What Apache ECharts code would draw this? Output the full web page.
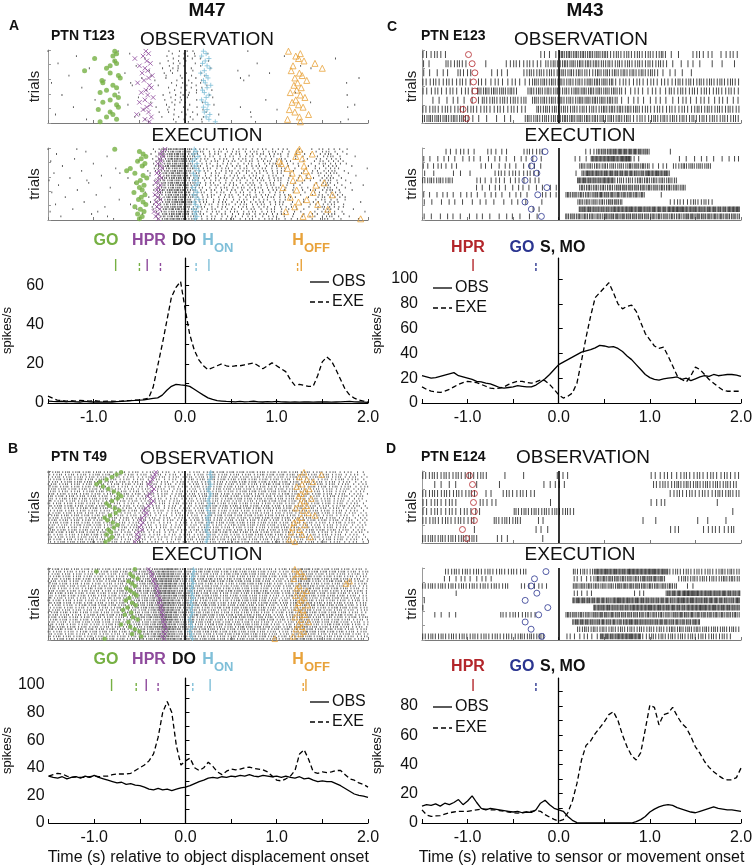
<!DOCTYPE html>
<html><head><meta charset="utf-8">
<script src="https://cdn.jsdelivr.net/npm/echarts@6/dist/echarts.min.js"></script>
<style>html,body{margin:0;padding:0;background:#fff}#c{width:756px;height:867px}</style>
</head><body><div id="c"></div>
<script>
// ---------- PSTH data (spikes/s), sampled every 0.05 s from -1.5 s to 2.0 s ----------
const T_START = -1.5, T_STEP = 0.05, T_COUNT = 71;
const X_TICKS = ['-1.0','0.0','1.0','2.0'];

const A_OBS = [1.0,0.8,0.7,0.9,0.6,0.8,0.6,0.5,0.8,0.6, 0.5,0.6,0.4,0.6,0.5,0.7,0.8,1.0,1.2,1.3, 1.5,1.6,2.0,2.4,2.6,4.0,6.5,8.5,9.5,9.2, 9.0,8.5,7.0,5.5,4.0,2.6,1.8,1.2,1.0,0.8, 0.7,0.6,0.8,0.6,0.7,0.9,0.6,0.5,0.7,0.6, 0.8,0.6,0.5,0.4,0.5,0.4,0.6,0.5,0.4,0.5, 0.6,0.5,0.4,0.5,0.6,0.7,0.8,0.6,0.5,0.4,0.3];
const A_EXE = [3.5,2.5,1.5,1.2,1.0,1.2,1.0,1.3,1.2,1.0, 1.2,1.0,0.8,1.0,1.0,0.8,1.0,1.2,1.2,1.5, 1.5,2.0,2.5,8,19,30,42,54,59,62, 48,35,27,22,19,17,18,19,20,19, 18.5,19,19,19.5,20,20.5,19,17.5,19,20.5, 19,17.5,16,12,9,9.5,9,8.5,8.5,14, 21,23.5,21.5,17,12,7,4,2.5,1.5,1,0.5];
const B_OBS = [34,33,32.5,33.5,32,33,33.5,32.5,34,33, 34.5,33,32,31,30,29,29.5,28,28.5,27.5, 27,26,24.5,24,25,24,24.5,23.5,24.5,25.5, 26,27,28.5,30,31,32.5,33,32.5,33.5,33, 34,33.5,34.5,34,35,34,33.5,34.5,34,33.5, 34,33,34,33,32.5,33.5,32,32.5,31,30, 30.5,30,30,28.5,27,25,23,21,20,19.5,18.5];
const B_EXE = [34,35,36,35.5,34,33,33.5,33,33,33.5, 34,33.5,34,34,35,35.5,35.5,35.5,36,38, 40,42,45,50,62,80,88,80,56,42, 45,47,40,38,40,44,41,37,35,37.5, 39,38.5,39,40,40.5,39.5,39,38.5,37,34, 31,30.5,32,34,38,50,53,46,37,36, 37,36.5,37,38,38,35,32,31,29,28,26];
const C_OBS = [22,21,20,20.5,21.5,22.5,23.5,24.5,22,21, 20,19,17.5,17,16,15.5,14,12.5,12,12.5, 13,14,13.5,13,13,14.5,17,19.5,23,27, 31,33,35,37,39,41,42,43,44.5,46.5, 46,45,45.5,44,41.5,38,35,31,27,23, 20.5,19,18.5,19.5,20,20.5,21,19,20,18, 19.5,21,22,21.5,23,22,22.5,23,23,22.5,21.5];
const C_EXE = [13,11,9.5,9,8.5,9.5,11,13,15,16.5, 17.5,17,16.5,15,13.5,12,11.5,12,13,15, 16.5,17.5,17.5,16.5,16,17,18.5,18,15,11, 6.5,4,5.5,8,16,34,53,70,85,89, 93,97,89,80,76,78,79,74,65,56, 51,46,44,45,38,30,22,19,17,22, 29,27,23,19,16,13,10.5,9.5,9.5,9.5,9.5];
const D_OBS = [11.5,12.5,12,13,11.5,13.5,12.5,14,16,12.5, 15,18.5,14,10,9,10,9.5,9,8.5,8, 7.5,8,7,7.5,7.2,9,13.5,15.5,12.5,10, 9,8,4.5,1.8,0.3,0,0,0,0,0, 0,0,0,0,0,0,0,1,2.3,4.5, 7.5,9.5,11,12,12.5,12,10.5,9.5,8.5,7.5, 7,8,9,10,11,10,9.5,9,9,8.5,8];
const D_EXE = [9,5.5,4.5,4.8,5,6,7,7.5,8,8, 8,8.5,9,9.5,9.5,9,9,8.5,8,7.5, 7,6.8,7,7.5,8,8.5,8,5.7,4,2.5, 1.2,2.3,7,15,27,43,53,56,61,65, 69,74,76,70,60,52,46,43,48,64, 80.5,79,67,74,75,79,73,68,65,59, 52,47.5,42,38,35,32.5,30.5,29.5,29.5,31,37.5];

// ---------- mean event times marked above each PSTH (s) ----------
const LEFT_EVENTS = ['GO','HPR','HON','HOFF'];
const A_MEAN_OBS = [-0.76,-0.415,0.26,1.27];
const A_MEAN_EXE = [-0.50,-0.27,0.12,1.23];
const B_MEAN_OBS = [-0.81,-0.43,0.27,1.32];
const B_MEAN_EXE = [-0.54,-0.30,0.08,1.29];
const C_MEAN_OBS_HPR = [-0.94], C_MEAN_EXE_GO = [-0.25];
const D_MEAN_OBS_HPR = [-0.94], D_MEAN_EXE_GO = [-0.25];

// ---------- per-trial event times (s), top trial first ----------
const A_OBS_GO = [-0.77,-0.75,-0.79,-0.99,-0.77,-0.75,-0.82,-0.86,-1.10,-0.82,-0.73,-0.71,-0.91,-0.90,-0.79,-0.75,-0.86,-0.93,-0.77,-0.73,-0.82,-0.90,-0.75,-0.73,-0.95,-0.82,-0.79,-0.86,-0.75,-0.93];
const A_OBS_HPR = [-0.43,-0.40,-0.46,-0.55,-0.42,-0.38,-0.50,-0.44,-0.41,-0.47,-0.36,-0.40,-0.45,-0.52,-0.39,-0.37,-0.43,-0.48,-0.41,-0.35,-0.44,-0.50,-0.38,-0.42,-0.46,-0.40,-0.53,-0.37,-0.44,-0.39];
const A_OBS_HON = [0.20,0.23,0.18,0.26,0.22,0.19,0.24,0.27,0.21,0.17,0.23,0.25,0.20,0.22,0.28,0.24,0.19,0.21,0.26,0.23,0.18,0.22,0.25,0.20,0.24,0.21,0.27,0.23,0.26,0.33];
const A_OBS_HOFF = [1.13,1.26,1.21,1.24,1.30,1.42,1.18,1.50,1.16,1.25,1.28,1.20,1.33,1.23,1.19,1.27,1.22,1.15,1.26,1.31,1.21,1.17,1.24,1.29,1.14,1.20,1.35,1.25,1.12,1.26];
const A_EXE_GO = [-0.77,-0.50,-0.46,-0.43,-0.48,-0.52,-0.44,-0.47,-0.60,-0.64,-0.55,-0.46,-0.42,-0.49,-0.53,-0.45,-0.50,-0.47,-0.56,-0.44,-0.48,-0.51,-0.46,-0.43,-0.55,-0.49,-0.45,-0.52,-0.47,-0.50];
const A_EXE_HPR = [-0.22,-0.25,-0.27,-0.24,-0.28,-0.26,-0.30,-0.27,-0.25,-0.29,-0.31,-0.28,-0.26,-0.30,-0.32,-0.27,-0.29,-0.31,-0.28,-0.33,-0.30,-0.27,-0.32,-0.29,-0.31,-0.28,-0.34,-0.30,-0.32,-0.29];
const A_EXE_HON = [0.10,0.12,0.09,0.14,0.11,0.08,0.13,0.10,0.12,0.15,0.09,0.11,0.13,0.10,0.14,0.12,0.08,0.11,0.13,0.09,0.12,0.15,0.10,0.11,0.14,0.09,0.12,0.10,0.13,0.11];
const A_EXE_HOFF = [1.25,1.23,1.39,1.21,1.28,1.03,1.05,1.30,1.12,1.32,1.17,1.35,1.26,1.18,1.52,1.43,1.07,1.22,1.40,1.61,1.15,1.33,1.24,1.45,1.20,1.56,1.10,1.37,1.29,1.92];
const B_OBS_GO = [-0.70,-0.75,-0.80,-0.86,-0.93,-0.97,-0.90,-0.84,-0.78,-0.73,-0.70,-0.74,-0.80,-0.86,-0.83,-0.77,-0.72,-0.76,-0.82,-0.88,-0.85,-0.79,-0.74,-0.78,-0.84,-0.81,-0.86,-0.80,-0.83,-0.87];
const B_OBS_HPR = [-0.32,-0.33,-0.35,-0.36,-0.38,-0.40,-0.37,-0.34,-0.36,-0.39,-0.41,-0.38,-0.35,-0.37,-0.40,-0.43,-0.45,-0.42,-0.44,-0.47,-0.49,-0.46,-0.48,-0.50,-0.47,-0.51,-0.53,-0.50,-0.52,-0.55];
const B_OBS_HON = [0.28,0.27,0.29,0.27,0.26,0.28,0.27,0.25,0.26,0.28,0.27,0.26,0.25,0.27,0.26,0.24,0.25,0.27,0.26,0.24,0.25,0.26,0.24,0.25,0.23,0.24,0.26,0.25,0.24,0.23];
const B_OBS_HOFF = [1.30,1.49,1.25,1.33,1.40,1.28,1.22,1.36,1.31,1.27,1.24,1.38,1.30,1.26,1.33,1.21,1.29,1.35,1.42,1.27,1.23,1.19,1.31,1.17,1.25,1.16,1.28,1.37,1.14,1.20];
const B_EXE_GO = [-0.55,-0.97,-0.60,-0.57,-0.52,-0.62,-0.58,-0.55,-0.64,-0.60,-0.56,-0.53,-0.61,-0.65,-0.58,-0.54,-0.63,-0.68,-0.59,-0.66,-0.57,-0.52,-0.62,-0.70,-0.60,-0.55,-0.50,-0.58,-0.48,-0.88];
const B_EXE_HPR = [-0.40,-0.38,-0.36,-0.37,-0.34,-0.35,-0.33,-0.31,-0.32,-0.30,-0.29,-0.31,-0.28,-0.27,-0.29,-0.26,-0.27,-0.25,-0.26,-0.24,-0.25,-0.23,-0.24,-0.22,-0.23,-0.21,-0.24,-0.22,-0.25,-0.23];
const B_EXE_HON = [0.09,0.10,0.08,0.09,0.07,0.08,0.09,0.07,0.08,0.06,0.08,0.07,0.09,0.07,0.06,0.08,0.07,0.06,0.08,0.07,0.06,0.05,0.07,0.06,0.08,0.06,0.05,0.07,0.06,0.08];
const B_EXE_HOFF = [1.20,1.26,1.23,1.30,1.19,1.80,1.76,1.25,1.22,1.33,1.28,1.21,1.30,1.27,1.24,1.34,1.22,1.29,1.25,1.31,1.20,1.27,1.35,1.24,1.28,1.21,1.30,1.26,1.18,0.98];
const C_OBS_HPR = [-0.99,-0.95,-0.92,-0.935,-0.92,-0.935,-1.05,-1.01];
const C_EXE_GO = [-0.15,-0.27,-0.30,-0.24,-0.37,-0.13,-0.23,-0.37,-0.30,-0.19];
const D_OBS_HPR = [-0.98,-0.946,-0.925,-0.935,-0.925,-0.925,-1.056,-1.01];
const D_EXE_GO = [-0.14,-0.266,-0.303,-0.24,-0.368,-0.12,-0.22,-0.368,-0.303,-0.185];

// ---------- firing segments per trial for the small rasters: [start s, end s, rate spikes/s] ----------
const C_OBS_TRIALS = [
 [[-1.5,-1.22,25],[-0.22,0,20],[0,0.55,50],[0.55,1.15,35],[1.15,1.35,15],[1.45,1.7,25],[1.75,1.99,20]],
 [[-1.5,-1.38,15],[-1.25,-1.0,30],[-0.85,-0.75,15],[-0.6,-0.18,25],[-0.15,0.5,45],[0.5,1.2,35],[1.2,1.6,12],[1.65,1.99,8]],
 [[-1.5,-1.2,18],[-1.12,-0.95,30],[-0.77,-0.52,15],[-0.4,0.3,38],[0.3,1.1,40],[1.1,1.5,12]],
 [[-1.5,-0.95,28],[-0.9,-0.3,22],[-0.3,0.6,45],[0.6,1.15,25],[1.15,1.5,30],[1.5,1.99,35]],
 [[-1.5,-0.92,25],[-0.9,-0.45,45],[-0.35,0.7,45],[0.7,1.2,20],[1.2,1.99,30]],
 [[-1.4,-0.85,15],[-0.85,-0.35,35],[-0.3,0.65,45],[0.65,1.99,18]],
 [[-1.5,-0.35,28],[-0.25,0.9,42],[0.9,1.99,32]],
 [[-1.5,-0.98,45],[-0.98,-0.5,12],[-0.38,0.8,45],[0.8,1.99,35]]
];
const C_EXE_TRIALS = [
 [[-1.25,-0.9,20],[-0.8,-0.55,20],[-0.4,-0.17,30],[0.27,0.43,25],[0.43,1.0,70],[1.2,1.25,5]],
 [[-1.5,-0.15,14],[0.15,0.35,15],[0.35,0.8,90],[0.8,0.9,20],[1.3,1.99,15]],
 [[-1.5,-1.1,20],[-0.88,-0.15,15],[0.22,1.0,50],[1.0,1.2,20],[1.25,1.68,45]],
 [[-1.5,-1.3,8],[-1.2,-0.9,10],[-0.72,-0.2,25],[0.13,0.25,10],[0.25,1.22,75]],
 [[-1.5,-1.15,40],[-0.92,-0.2,20],[0.2,0.6,80],[0.6,1.3,45]],
 [[-0.92,-0.15,15],[-0.13,0.0,15],[0.22,1.4,55]],
 [[-1.5,-0.3,15],[-0.2,0,20],[0.07,0.95,60],[1.1,1.15,5]],
 [[-1.5,-0.3,12],[-0.22,-0.15,10],[0.2,0.7,55],[1.2,1.7,30]],
 [[-0.3,-0.17,15],[0.22,1.99,80]],
 [[-1.5,-0.2,12],[0.07,1.99,60]]
];
const D_OBS_TRIALS = [
 [[-1.5,-0.77,30],[-0.6,-0.58,5],[-0.42,-0.35,10],[-0.05,0.12,20],[1.0,1.99,25]],
 [[-1.38,-1.1,15],[-0.95,-0.85,15],[-0.7,-0.6,10],[-0.2,0.1,15],[1.03,1.96,35]],
 [[-1.5,-0.9,30],[-0.83,-0.72,20],[-0.63,-0.25,25],[1.2,1.99,30]],
 [[-1.5,-1.1,25],[-0.88,-0.67,25],[-0.1,-0.08,5],[0.98,1.18,20],[1.7,1.78,15]],
 [[-1.5,-0.85,25],[-0.5,0.18,35],[1.9,1.92,5]],
 [[-1.5,-0.92,30],[-0.72,-0.4,35],[-0.25,-0.15,20],[0.9,0.95,5],[1.05,1.08,5],[1.5,1.55,5],[1.62,1.65,5],[1.82,1.85,5]],
 [[-0.95,-0.9,10],[-0.28,-0.07,15],[1.2,1.33,25],[1.56,1.93,25]],
 [[-1.5,-0.88,35],[-0.7,-0.52,15],[-0.2,-0.15,15]]
];
const D_EXE_TRIALS = [
 [[-1.25,-0.35,32],[0.15,0.4,40],[0.4,1.2,85],[1.2,1.99,35]],
 [[-1.27,-0.7,18],[0.15,0.4,25],[0.4,1.17,60],[1.3,1.99,40]],
 [[-1.5,-0.55,35],[-0.43,-0.1,20],[0.15,1.3,55],[1.38,1.5,15]],
 [[-1.2,-1.05,5],[0.15,0.38,20],[0.8,0.95,20],[1.17,1.99,80]],
 [[-1.5,-1.45,10],[0.15,1.99,75]],
 [[-1.5,-1.48,5],[0.38,1.99,80]],
 [[-1.38,-1.1,15],[-0.65,-0.24,30],[0.07,1.99,60]],
 [[0.15,1.55,70]],
 [[0.2,1.99,40]],
 [[-1.5,-0.15,35],[0.07,0.45,20],[0.45,0.9,80],[0.9,1.9,35]]
];
const N_TRIALS_AB = 30;

// ---------- helpers ----------
const T = Array.from({length:T_COUNT},(_,i)=>+(T_START+i*T_STEP).toFixed(2));
const FONT = '"Liberation Sans", Arial, Helvetica, sans-serif';
const COL = {GO:'#76b043', HPR:'#8e4a9c', HON:'#7fbfd8', HOFF:'#e8a23a', HPR_R:'#b3262b', GO_R:'#2b3590'};
const CLEAR = 'rgba(0,0,0,0)';
const MARK = {
  GO:   {symbol:'circle', itemStyle:{color:COL.GO}},
  HPR:  {symbol:'path://M0,0L10,10M10,0L0,10', itemStyle:{color:CLEAR,borderColor:COL.HPR,borderWidth:1}},
  HON:  {symbol:'path://M5,0L5,10M0,5L10,5', itemStyle:{color:CLEAR,borderColor:COL.HON,borderWidth:1}},
  HOFF: {symbol:'triangle', itemStyle:{color:CLEAR,borderColor:COL.HOFF,borderWidth:1}},
  HPR_R:{symbol:'circle', itemStyle:{color:CLEAR,borderColor:COL.HPR_R,borderWidth:1}},
  GO_R: {symbol:'circle', itemStyle:{color:CLEAR,borderColor:COL.GO_R,borderWidth:1}}
};
// deterministic low-discrepancy dither in [0.5, 1.5) (mean 1) to avoid a regular lattice of ticks
const dither = j => 0.5 + ((j*0.7548777) % 1);

// spike times whose cumulative count follows the PSTH rate
function spikesFromRate(rate, n){
  const pts=[];
  for(let k=0;k<n;k++){
    let j=k*37, target=((k*0.618034)%1), cum=0;
    for(let i=0;i<rate.length-1;i++){
      const area=(rate[i]+rate[i+1])/2*T_STEP;
      while(area>0 && cum+area>=target){ pts.push([T[i]+(target-cum)/area*T_STEP, k+0.5]); target+=dither(j++); }
      cum+=area;
    }
  }
  return pts;
}
function spikesFromSegments(trials){
  const pts=[];
  trials.forEach((segs,k)=>segs.forEach(([a,b,r],s)=>{
    const n=Math.max(1,Math.round(r*(b-a)));
    const w=[]; let tot=0;
    for(let j=0;j<n;j++){ const v=dither(k*53+s*11+j); w.push(v); tot+=v; }
    let acc=0;
    for(let j=0;j<n;j++){ acc+=w[j]; pts.push([a+(acc-w[j]/2)/tot*(b-a), k+0.5]); }
  }));
  return pts;
}

const grids=[], xAxis=[], yAxis=[], series=[];
const zeroLine = w => ({silent:true, symbol:['none','none'], label:{show:false}, lineStyle:{color:'#000',width:w,type:'solid'}, data:[{xAxis:0}]});

function addRaster(box, n, yInt, nameGap, spikes, size, color, markers){
  const gi=grids.length; grids.push(box);
  xAxis.push({gridIndex:gi,type:'value',min:-1.5,max:2,interval:0.5,
    axisLine:{onZero:false,lineStyle:{color:'#7a7a7a',width:1.2}},
    axisTick:{inside:true,length:3,lineStyle:{color:'#7a7a7a'}},axisLabel:{show:false},splitLine:{show:false}});
  yAxis.push({gridIndex:gi,type:'value',min:0,max:n,interval:yInt,inverse:true,
    name:'trials',nameLocation:'middle',nameGap,nameTextStyle:{fontSize:15,color:'#222',fontFamily:FONT},
    axisLine:{show:true,onZero:false,lineStyle:{color:'#9a9a9a'}},
    axisTick:{show:true,inside:true,length:3,lineStyle:{color:'#9a9a9a'}},axisLabel:{show:false},splitLine:{show:false}});
  series.push({type:'scatter',xAxisIndex:gi,yAxisIndex:gi,data:spikes,symbol:'rect',symbolSize:size,
    itemStyle:{color},silent:true,z:2,markLine:zeroLine(1.6)});
  markers.forEach(m=>series.push({type:'scatter',xAxisIndex:gi,yAxisIndex:gi,
    data:m.times.map((t,k)=>[t,k+0.5]),symbol:MARK[m.kind].symbol,symbolSize:m.size,
    itemStyle:MARK[m.kind].itemStyle,silent:true,z:4}));
}

function addPsth(box, yMax, yInt, nameGap, obs, exe, ticks, xName){
  const gi=grids.length; grids.push(box);
  xAxis.push({gridIndex:gi,type:'value',min:-1.5,max:2,interval:0.5,
    name:xName||'',nameLocation:'middle',nameGap:27,nameTextStyle:{fontSize:16,color:'#111',fontFamily:FONT},
    axisLine:{onZero:false,lineStyle:{color:'#000',width:1}},
    axisTick:{inside:true,length:4,lineStyle:{color:'#000'}},
    axisLabel:{fontSize:16,color:'#111',margin:7,fontFamily:FONT,
      formatter:v=>{const i=[-1,0,1,2].findIndex(u=>Math.abs(u-v)<1e-6);return i<0?'':X_TICKS[i];}},
    splitLine:{show:false}});
  yAxis.push({gridIndex:gi,type:'value',min:0,max:yMax,interval:yInt,
    name:'spikes/s',nameLocation:'middle',nameGap,nameTextStyle:{fontSize:13,color:'#111',fontFamily:FONT},
    axisLine:{show:true,lineStyle:{color:'#000',width:1}},
    axisTick:{show:true,inside:true,length:4,lineStyle:{color:'#000'}},
    axisLabel:{fontSize:16,color:'#111',margin:4,fontFamily:FONT,showMaxLabel:false,
      formatter:v=>(Math.abs(v%20)<1e-6 && v<=yMax-5)?String(v):''},
    splitLine:{show:false}});
  series.push({type:'line',xAxisIndex:gi,yAxisIndex:gi,data:T.map((t,i)=>[t,obs[i]]),symbol:'none',
    lineStyle:{color:'#000',width:1.3},silent:true,z:3,markLine:zeroLine(1.3)});
  series.push({type:'line',xAxisIndex:gi,yAxisIndex:gi,data:T.map((t,i)=>[t,exe[i]]),symbol:'none',
    lineStyle:{color:'#000',width:1.3,type:[5,3]},silent:true,z:3});
  // event mean ticks: solid = observation, dotted = execution
  series.push({type:'custom',xAxisIndex:gi,yAxisIndex:gi,silent:true,z:5,clip:false,
    data:ticks.map((d,i)=>[d.t,i]),
    renderItem:(params,api)=>{
      const d=ticks[api.value(1)], x=api.coord([api.value(0),0])[0], top=params.coordSys.y;
      return {type:'line',shape:{x1:x,y1:top+(d.dotted?5:1),x2:x,y2:top+13},
        style:{stroke:d.color,lineWidth:1.4,lineDash:d.dotted?[3,2]:null}};
    }});
}
const leftTicks=(obs,exe)=>[
  ...obs.map((t,i)=>({t,color:COL[LEFT_EVENTS[i]],dotted:false})),
  ...exe.map((t,i)=>({t,color:COL[LEFT_EVENTS[i]],dotted:true}))];
const rightTicks=(hpr,go)=>[...hpr.map(t=>({t,color:COL.HPR_R,dotted:false})),...go.map(t=>({t,color:COL.GO_R,dotted:true}))];

const LB={left:48,width:320}, RB={left:422,width:319};
const leftMarkers=(go,hpr,hon,hoff,s)=>[
  {kind:'GO',times:go,size:s},{kind:'HPR',times:hpr,size:s-0.5},{kind:'HON',times:hon,size:s},{kind:'HOFF',times:hoff,size:s+1}];

// A
addRaster({...LB,top:50,height:73},N_TRIALS_AB,6,6,spikesFromRate(A_OBS,N_TRIALS_AB),[1,1.8],'#333',leftMarkers(A_OBS_GO,A_OBS_HPR,A_OBS_HON,A_OBS_HOFF,5));
addRaster({...LB,top:148,height:72},N_TRIALS_AB,6,6,spikesFromRate(A_EXE,N_TRIALS_AB),[1,1.8],'#333',leftMarkers(A_EXE_GO,A_EXE_HPR,A_EXE_HON,A_EXE_HOFF,5));
addPsth({...LB,top:258,height:145},74,10,34,A_OBS,A_EXE,leftTicks(A_MEAN_OBS,A_MEAN_EXE));
// B
addRaster({...LB,top:471,height:72},N_TRIALS_AB,6,6,spikesFromRate(B_OBS,N_TRIALS_AB),[1,1.7],'#444',leftMarkers(B_OBS_GO,B_OBS_HPR,B_OBS_HON,B_OBS_HOFF,4.5));
addRaster({...LB,top:568,height:72},N_TRIALS_AB,6,6,spikesFromRate(B_EXE,N_TRIALS_AB),[1,1.7],'#444',leftMarkers(B_EXE_GO,B_EXE_HPR,B_EXE_HON,B_EXE_HOFF,4.5));
addPsth({...LB,top:678,height:145},105,10,34,B_OBS,B_EXE,leftTicks(B_MEAN_OBS,B_MEAN_EXE),'Time (s) relative to object displacement onset');
// C
addRaster({...RB,top:50,height:73},8,2,3,spikesFromSegments(C_OBS_TRIALS),[1,7],'#1a1a1a',[{kind:'HPR_R',times:C_OBS_HPR,size:6}]);
addRaster({...RB,top:148,height:72},10,2,3,spikesFromSegments(C_EXE_TRIALS),[1,5.6],'#1a1a1a',[{kind:'GO_R',times:C_EXE_GO,size:6}]);
addPsth({...RB,top:258,height:145},117,20,38,C_OBS,C_EXE,rightTicks(C_MEAN_OBS_HPR,C_MEAN_EXE_GO));
// D
addRaster({...RB,top:471,height:72},8,2,3,spikesFromSegments(D_OBS_TRIALS),[1,7],'#1a1a1a',[{kind:'HPR_R',times:D_OBS_HPR,size:6}]);
addRaster({...RB,top:568,height:72},10,2,3,spikesFromSegments(D_EXE_TRIALS),[1,5.6],'#1a1a1a',[{kind:'GO_R',times:D_EXE_GO,size:6}]);
addPsth({...RB,top:678,height:145},99,10,38,D_OBS,D_EXE,rightTicks(D_MEAN_OBS_HPR,D_MEAN_EXE_GO),'Time (s) relative to sensor or movement onset');

// ---------- text & legends ----------
function txt(text,x,y,size,o={}){
  const al=o.align||'center';
  return {type:'text',x,y,silent:true,z:10,style:{text,fill:o.color||'#111',
    font:(o.bold?'bold ':'')+size+'px '+FONT,align:al,textAlign:al,verticalAlign:'middle',textVerticalAlign:'middle'}};
}
function legend(x,yObs,yExe){
  return [
    {type:'line',silent:true,z:10,shape:{x1:x,y1:yObs,x2:x+19,y2:yObs},style:{stroke:'#000',lineWidth:1.3}},
    {type:'line',silent:true,z:10,shape:{x1:x,y1:yExe,x2:x+19,y2:yExe},style:{stroke:'#000',lineWidth:1.3,lineDash:[5,3]}},
    txt('OBS',x+22,yObs,16,{align:'left'}), txt('EXE',x+22,yExe,16,{align:'left'})];
}
function leftLabels(y){
  return [txt('GO',106,y,16,{bold:true,color:COL.GO}),txt('HPR',149,y,16,{bold:true,color:COL.HPR}),
    txt('DO',184,y,16,{bold:true,color:'#111'}),txt('H',208,y,16,{bold:true,color:COL.HON}),
    txt('ON',214,y+7,13,{bold:true,color:COL.HON,align:'left'}),txt('H',298,y,16,{bold:true,color:COL.HOFF}),
    txt('OFF',304,y+7,13,{bold:true,color:COL.HOFF,align:'left'})];
}
function rightLabels(y){
  return [txt('HPR',468,y,16,{bold:true,color:COL.HPR_R}),txt('GO',522,y,16,{bold:true,color:COL.GO_R}),
    txt('S, MO',540,y,16,{bold:true,color:'#111',align:'left'})];
}
const graphic=[
  txt('M47',207,11,19,{bold:true}), txt('M43',585,11,19,{bold:true}),
  txt('A',14,26,14,{bold:true}), txt('B',13,449,14,{bold:true}), txt('C',392,27,14,{bold:true}), txt('D',391,449,14,{bold:true}),
  txt('PTN T123',51,36,14,{bold:true,align:'left'}), txt('PTN T49',51,457,14,{bold:true,align:'left'}),
  txt('PTN E123',421,36,14,{bold:true,align:'left'}), txt('PTN E124',421,457,14,{bold:true,align:'left'}),
  txt('OBSERVATION',207,40,19), txt('EXECUTION',207,136,19),
  txt('OBSERVATION',207,459,19), txt('EXECUTION',207,555,19),
  txt('OBSERVATION',581,40,19), txt('EXECUTION',580,136,19),
  txt('OBSERVATION',583,458,19), txt('EXECUTION',580,555,19),
  ...leftLabels(241), ...leftLabels(660), ...rightLabels(248), ...rightLabels(667),
  ...legend(310,282,302), ...legend(310,702,722), ...legend(433,288,308), ...legend(433,707,728)
];

const chart=echarts.init(document.getElementById('c'),null,{renderer:'canvas'});
chart.setOption({animation:false,backgroundColor:'#fff',textStyle:{fontFamily:FONT},
  grid:grids,xAxis,yAxis,series,graphic});
</script></body></html>
